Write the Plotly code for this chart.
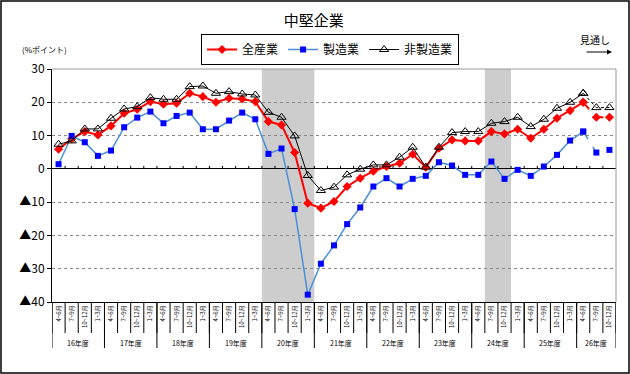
import plotly.graph_objects as go

# ---- data ----
fiscal_years = ["16年度", "17年度", "18年度", "19年度", "20年度", "21年度",
                "22年度", "23年度", "24年度", "25年度", "26年度"]
quarters_in_year = [4, 4, 4, 4, 4, 4, 4, 4, 4, 4, 3]
quarter_names = ["4~6月", "7~9月", "10~12月", "1~3月"]

all_industries = [5.9, 9.0, 11.2, 10.2, 12.9, 16.7, 17.9, 20.2, 19.4, 19.7,
                  22.7, 21.7, 20.0, 21.2, 21.0, 20.2, 14.2, 13.2, 4.9, -10.3,
                  -11.8, -9.8, -5.3, -2.8, -0.7, 0.7, 1.7, 4.4, 0.5, 6.2,
                  8.7, 8.4, 8.4, 11.2, 10.5, 11.9, 9.2, 11.9, 15.2, 17.5,
                  20.0, 15.5, 15.5]
manufacturing = [1.4, 9.9, 8.0, 3.9, 5.5, 12.5, 15.4, 17.2, 13.7, 15.9,
                 16.9, 11.9, 11.9, 14.5, 16.9, 14.9, 4.5, 6.1, -12.1, -37.8,
                 -28.5, -23.0, -16.6, -11.6, -5.3, -2.8, -5.3, -3.0, -2.1, 2.0,
                 1.0, -1.8, -1.8, 2.2, -3.0, -0.3, -2.1, 0.7, 4.2, 8.5,
                 11.2, 4.9, 5.7]
non_manufacturing = [7.4, 8.4, 12.0, 12.0, 15.2, 18.0, 18.7, 21.4, 20.9, 20.9,
                     24.7, 24.9, 22.7, 23.2, 22.5, 22.2, 17.0, 15.5, 9.9, -2.0,
                     -6.5, -5.5, -1.8, -0.1, 1.2, 1.2, 3.5, 6.5, 0.5, 6.5,
                     10.9, 11.2, 11.2, 13.7, 14.2, 15.5, 12.7, 14.9, 18.2, 20.0,
                     22.7, 18.4, 18.4]
n_forecast = 2  # last points are 見通し (forecast)

# shaded periods: (first index, last index) in quarter sequence
shaded_periods = [(16, 19), (33, 34)]

y_tickvals = [30, 20, 10, 0, -10, -20, -30, -40]
y_ticktext = ["30", "20", "10", "0", "▲10", "▲20", "▲30", "▲40"]

# ---- build ----
quarter_labels = []
for fy, nq in zip(fiscal_years, quarters_in_year):
    for q in range(nq):
        quarter_labels.append(quarter_names[q])
N = len(quarter_labels)
x = list(range(N))
split = N - n_forecast - 1

FONT = "Noto Sans CJK JP"
fig = go.Figure()

series = [
    ("全産業", all_industries, dict(color="#ff0000", width=2),
     dict(symbol="diamond", size=7, color="#ff0000"), "dash"),
    ("製造業", manufacturing, dict(color="#4a8fd8", width=1.5),
     dict(symbol="square", size=6, color="#0000ff"), "dash"),
    ("非製造業", non_manufacturing, dict(color="#000000", width=1),
     dict(symbol="triangle-up-open", size=8, color="#000000",
          line=dict(width=1, color="#000000")), "dot"),
]
for name, vals, line, marker, fdash in series:
    fig.add_trace(go.Scatter(x=x[:split + 1], y=vals[:split + 1], mode="lines+markers",
                             name=name, line=line, marker=marker, legendgroup=name))
    fl = dict(line)
    fl["dash"] = fdash
    fig.add_trace(go.Scatter(x=x[split:], y=vals[split:], mode="lines+markers",
                             name=name, line=fl, marker=marker, legendgroup=name,
                             showlegend=False))

shapes = []
for a, b in shaded_periods:
    shapes.append(dict(type="rect", xref="x", yref="y", x0=a - 0.5, x1=b + 0.5,
                       y0=-40, y1=30, fillcolor="#cdcdcd", line=dict(width=0),
                       layer="below"))
# small ticks on the zero line at category boundaries
for i in range(1, N):
    shapes.append(dict(type="line", xref="x", yref="y", x0=i - 0.5, x1=i - 0.5,
                       y0=0, y1=0.9, line=dict(color="#000000", width=1)))
# quarter separators under axis
for i in range(N + 1):
    shapes.append(dict(type="line", xref="x", yref="paper", x0=i - 0.5, x1=i - 0.5,
                       y0=0, y1=-31 / 233, line=dict(color="#000000", width=1)))
# year separators and year labels
annotations = []
pos = 0
bounds = [-0.5]
for fy, nq in zip(fiscal_years, quarters_in_year):
    annotations.append(dict(x=pos + (nq - 1) / 2, y=-41 / 233, xref="x", yref="paper",
                            text=fy, showarrow=False, font=dict(size=7, family=FONT, color="#000"),
                            xanchor="center", yanchor="middle"))
    pos += nq
    bounds.append(pos - 0.5)
for bx in bounds:
    shapes.append(dict(type="line", xref="x", yref="paper", x0=bx, x1=bx,
                       y0=0, y1=-46 / 233, line=dict(color="#000000", width=1)))
# top / right grey border of plot area
shapes.append(dict(type="line", xref="paper", yref="paper", x0=0, x1=1, y0=1, y1=1,
                   line=dict(color="#999999", width=1)))
shapes.append(dict(type="line", xref="paper", yref="paper", x0=1, x1=1, y0=0, y1=1,
                   line=dict(color="#999999", width=1)))
# outer frame
PW, PH = 564, 233
shapes.append(dict(type="rect", xref="paper", yref="paper",
                   x0=-51 / PW, x1=1 + 13 / PW, y0=-71 / PH, y1=1 + 68 / PH,
                   line=dict(color="#000000", width=1.5)))
# forecast arrow
annotations.append(dict(xref="paper", yref="paper", x=1 - 4 / PW, y=1 + 17 / PH,
                        ax=-27, ay=0, axref="pixel", ayref="pixel", text="",
                        showarrow=True, arrowhead=2, arrowsize=1, arrowwidth=1,
                        arrowcolor="#000"))
annotations.append(dict(xref="paper", yref="paper", x=1 - 21 / PW, y=1 + 29 / PH,
                        text="見通し", showarrow=False, xanchor="center", yanchor="middle",
                        font=dict(size=10, family=FONT, color="#000")))
annotations.append(dict(xref="paper", yref="paper", x=-8 / PW, y=1 + 20 / PH,
                        text="(%ポイント)", showarrow=False, xanchor="center", yanchor="middle",
                        font=dict(size=8, family=FONT, color="#000")))

fig.update_layout(
    width=630, height=374,
    margin=dict(l=52, r=14, t=69, b=72),
    paper_bgcolor="#ffffff", plot_bgcolor="#ffffff",
    font=dict(family=FONT, color="#000000"),
    title=dict(text="中堅企業", x=0.498, xanchor="center", y=0.945, yanchor="middle",
               font=dict(size=15, family=FONT, color="#000")),
    showlegend=True,
    legend=dict(orientation="h", x=0.493, xanchor="center", y=1 + 35 / PH, yanchor="top",
                bordercolor="#000000", borderwidth=1, bgcolor="#ffffff",
                font=dict(size=12, family=FONT), itemwidth=30,
                tracegroupgap=0, traceorder="normal"),
    shapes=shapes, annotations=annotations,
    xaxis=dict(range=[-0.5, N - 0.5], tickmode="array", tickvals=x, ticktext=quarter_labels,
               tickangle=-90, tickfont=dict(size=6, family=FONT), ticks="", showgrid=False,
               showline=True, linecolor="#000000", linewidth=1, zeroline=False, fixedrange=True),
    yaxis=dict(range=[-40, 30], tickmode="array", tickvals=y_tickvals, ticktext=y_ticktext,
               tickfont=dict(size=12, family=FONT), ticks="outside", ticklen=4,
               tickcolor="#000", showline=True, linecolor="#000000", linewidth=1,
               showgrid=True, gridcolor="#888888", griddash="dot", gridwidth=1,
               zeroline=True, zerolinecolor="#000000", zerolinewidth=1, fixedrange=True),
)

fig.write_html("out.html", config={"displayModeBar": False},
               post_script="document.body.style.margin='0';document.body.style.padding='0';")
